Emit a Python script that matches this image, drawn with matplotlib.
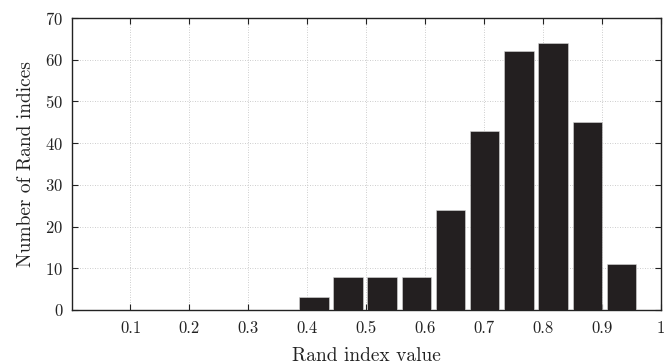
import matplotlib
matplotlib.use("Agg")
import matplotlib.pyplot as plt

plt.rcParams['font.family'] = ['cmr10', 'DejaVu Serif']
plt.rcParams['axes.formatter.use_mathtext'] = True

bin_centers = [0.411, 0.469, 0.527, 0.585, 0.643, 0.701, 0.759, 0.817, 0.875, 0.933]
counts = [3, 8, 8, 8, 24, 43, 62, 64, 45, 11]
xticks = [0.1, 0.2, 0.3, 0.4, 0.5, 0.6, 0.7, 0.8, 0.9, 1.0]
xtick_labels = ['0.1', '0.2', '0.3', '0.4', '0.5', '0.6', '0.7', '0.8', '0.9', '1']
yticks = [0, 10, 20, 30, 40, 50, 60, 70]

fig = plt.figure(figsize=(6.68, 3.64), dpi=100)
ax = fig.add_axes([71.5/668, 1 - 310/364, (661-71.5)/668, (310-18)/364])

ax.bar(bin_centers, counts, width=0.050, color='#231f20', edgecolor='#d8d8d8', linewidth=0.4, zorder=3)

ax.set_xlim(0, 1)
ax.set_ylim(0, 70)
ax.set_xticks(xticks)
ax.set_xticklabels(xtick_labels)
ax.set_yticks(yticks)
ax.grid(True, linestyle=(0, (1, 2)), color='#bdbdbd', linewidth=0.6, zorder=0)
ax.tick_params(direction='in', top=True, right=True, length=4, width=0.8, labelsize=12, pad=8, colors='#222222')
ax.tick_params(axis='y', pad=6)
for s in ax.spines.values():
    s.set_linewidth(1.0)
    s.set_color('#222222')

ax.set_xlabel('Rand index value', fontsize=14, labelpad=8, color='#222222')
ax.set_ylabel('Number of Rand indices', fontsize=14, labelpad=7, color='#222222')

fig.savefig('out.png', dpi=100)
